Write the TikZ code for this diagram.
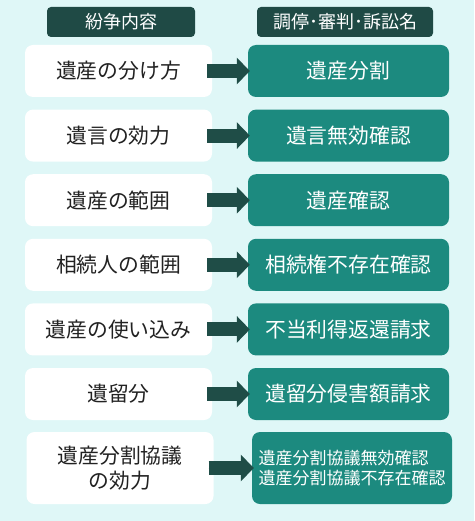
\documentclass[tikz,border=0pt]{standalone}
\usepackage{fontspec}
\newfontfamily\jpfont{Noto Sans CJK JP}
\usetikzlibrary{arrows.meta,positioning}
\definecolor{bgcyan}{HTML}{DFF7F7}
\definecolor{hdark}{HTML}{1F4A45}
\definecolor{claimteal}{HTML}{1C8A7F}
\definecolor{adark}{HTML}{1F4D47}
\definecolor{ink}{HTML}{222222}
\begin{document}
\begin{tikzpicture}[x=1pt,y=-1pt,
  head/.style={fill=hdark,text=white,rounded corners=4pt,minimum height=30pt,
    inner sep=0pt,font=\jpfont\fontsize{18}{20}\selectfont},
  issue/.style={fill=white,text=ink,rounded corners=8pt,minimum width=187pt,
    minimum height=52pt,inner sep=0pt,font=\jpfont\fontsize{20.8}{25}\selectfont},
  claim/.style={fill=claimteal,text=white,rounded corners=8pt,minimum width=201pt,
    minimum height=52pt,inner sep=0pt,font=\jpfont\fontsize{20.8}{25}\selectfont},
  flow/.style={-{Triangle[length=13pt,width=26pt]},line width=14pt,draw=adark,fill=adark}]
\fill[bgcyan] (0,0) rectangle (474,521);
\node[head,minimum width=148pt] (hl) at (121,22) {紛争内容};
\node[head,minimum width=176pt] (hr) at (345,22) {調停･審判･訴訟名};
\foreach \i/\lt/\rt in {1/遺産の分け方/遺産分割,2/遺言の効力/遺言無効確認,
  3/遺産の範囲/遺産確認,4/相続人の範囲/相続権不存在確認,
  5/遺産の使い込み/不当利得返還請求,6/遺留分/遺留分侵害額請求}{
 \pgfmathsetmacro{\yy}{71+64.6*(\i-1)}
 \node[issue] (l\i) at (118.5,\yy) {\lt};
 \node[claim] (r\i) at (348.5,\yy) {\rt};
 \draw[flow] ([xshift=-5pt]l\i.east)--([xshift=2pt]r\i.west);
}
\node[issue,minimum height=72pt,align=center] (l7) at (120,468)
 {遺産分割協議\\の効力};
\node[claim,minimum height=72pt,minimum width=200pt,align=left,
  font=\jpfont\fontsize{17}{20.5}\selectfont] (r7) at (352,468)
 {遺産分割協議無効確認\\遺産分割協議不存在確認};
\draw[flow] ([xshift=-5pt]l7.east)--([xshift=2pt]r7.west);
\end{tikzpicture}
\end{document}
